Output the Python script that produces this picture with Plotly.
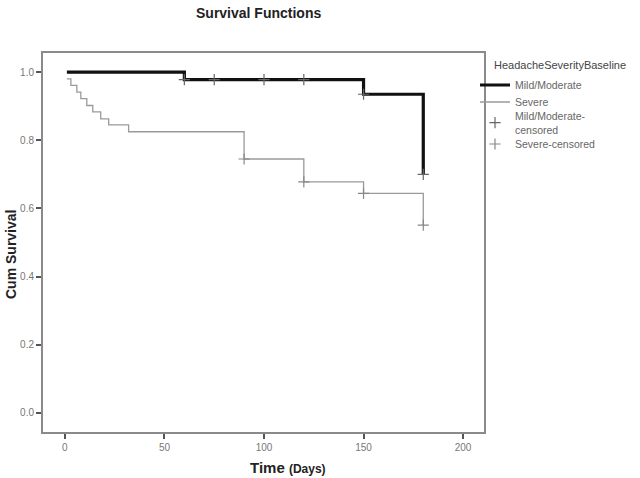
import plotly.graph_objects as go

# ---- data ----
mild_time = [1, 60, 150, 180]
mild_surv = [1.0, 0.978, 0.935, 0.70]
mild_cens_time = [60, 75, 100, 120, 150, 180]
mild_cens_surv = [0.978, 0.978, 0.978, 0.978, 0.935, 0.70]

severe_time = [1, 3, 6, 8, 11, 14, 18, 22, 32, 90, 120, 150, 180]
severe_surv = [0.98, 0.961, 0.941, 0.922, 0.902, 0.883, 0.863, 0.845, 0.825,
               0.745, 0.678, 0.644, 0.551]
severe_cens_time = [90, 120, 150, 180]
severe_cens_surv = [0.745, 0.678, 0.644, 0.551]

x_ticks = [0, 50, 100, 150, 200]
y_ticks = [0.0, 0.2, 0.4, 0.6, 0.8, 1.0]

FONT = "Liberation Sans, Arial, sans-serif"

# reference pixel -> paper coordinate helpers
PL, PT, PW, PH = 43, 53, 441, 379


def xp(px):
    return (px - PL) / PW


def yp(py):
    return (PT + PH - py) / PH


fig = go.Figure()
fig.add_trace(go.Scatter(x=mild_time, y=mild_surv, mode="lines", line_shape="hv",
                         line=dict(color="#111111", width=3.2), name="Mild/Moderate",
                         legend="legend"))
fig.add_trace(go.Scatter(x=severe_time, y=severe_surv, mode="lines", line_shape="hv",
                         line=dict(color="#9a9a9a", width=1.3), name="Severe",
                         legend="legend2"))
fig.add_trace(go.Scatter(x=mild_cens_time, y=mild_cens_surv, mode="markers",
                         marker=dict(symbol="cross-thin", size=8,
                                     line=dict(color="#666666", width=1.2)),
                         name="Mild/Moderate-<br>censored", legend="legend3"))
fig.add_trace(go.Scatter(x=severe_cens_time, y=severe_cens_surv, mode="markers",
                         marker=dict(symbol="cross-thin", size=8,
                                     line=dict(color="#888888", width=1.2)),
                         name="Severe-censored", legend="legend4"))

axis_common = dict(showline=True, mirror=True, linecolor="#8a8a8a", linewidth=2,
                   showgrid=False, zeroline=False, ticks="outside", ticklen=5,
                   tickwidth=2, tickcolor="#555555",
                   tickfont=dict(family=FONT, size=10, color="#777777"))

leg_common = dict(x=xp(475), xanchor="left", yanchor="middle",
                  font=dict(family=FONT, size=10.5, color="#666666"),
                  itemwidth=30, bgcolor="rgba(0,0,0,0)", borderwidth=0)

fig.update_layout(
    width=640, height=478,
    margin=dict(l=PL, r=640 - PL - PW, t=PT, b=478 - PT - PH),
    paper_bgcolor="white", plot_bgcolor="white",
    showlegend=True,
    legend=dict(y=yp(85), **leg_common),
    legend2=dict(y=yp(102), **leg_common),
    legend3=dict(y=yp(123), **leg_common),
    legend4=dict(y=yp(144), **leg_common),
    xaxis=dict(range=[-11, 210.5], tickvals=x_ticks, ticktext=[str(v) for v in x_ticks],
               **axis_common),
    yaxis=dict(range=[-0.056, 1.056], tickvals=y_ticks,
               ticktext=[f"{v:.1f}" for v in y_ticks], **axis_common),
    annotations=[
        dict(text="<b>Survival Functions</b>", xref="paper", yref="paper",
             x=xp(258), y=yp(13), xanchor="center", yanchor="middle",
             showarrow=False, font=dict(family=FONT, size=14, color="#222222")),
        dict(text="<b>Time</b> <b><span style='font-size:12px'>(Days)</span></b>",
             xref="paper", yref="paper", x=xp(288), y=yp(467),
             xanchor="center", yanchor="middle", showarrow=False,
             font=dict(family=FONT, size=15, color="#222222")),
        dict(text="<b>Cum Survival</b>", xref="paper", yref="paper",
             x=xp(11), y=yp(255), textangle=-90,
             xanchor="center", yanchor="middle", showarrow=False,
             font=dict(family=FONT, size=14, color="#222222")),
        dict(text="HeadacheSeverityBaseline", xref="paper", yref="paper",
             x=xp(492), y=yp(65), xanchor="left", yanchor="middle",
             showarrow=False, font=dict(family=FONT, size=11, color="#444444")),
    ],
)

fig.write_html("out.html",
               config={"displayModeBar": False},
               post_script="document.body.style.margin='0';"
                           "document.body.style.padding='0';"
                           "document.body.style.overflow='hidden';")
